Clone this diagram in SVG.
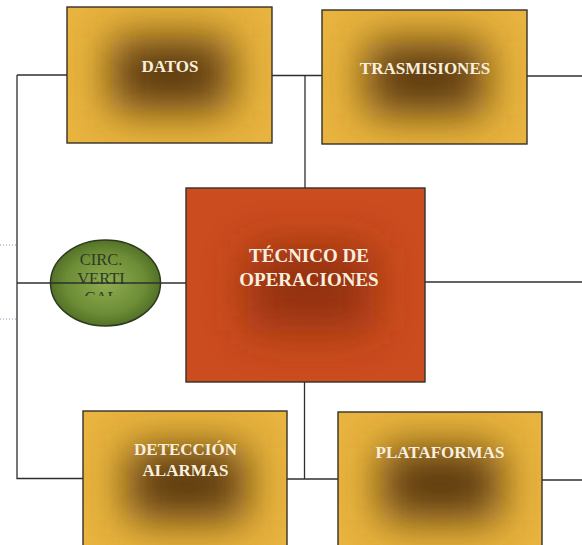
<svg xmlns="http://www.w3.org/2000/svg" width="582" height="545" viewBox="0 0 582 545">
  <style>
    .box { stroke: #35302a; stroke-width: 1.4; }
    .gold { fill: #E9B43E; }
    .rust { fill: #CB4C1F; }
    .core-gold { fill: #5A380B; }
    .core-rust { fill: #8E2E10; }
    .lbl { font-family: "Liberation Serif", "Times New Roman", serif; font-weight: bold; fill: #F8EFDF; text-anchor: middle; }
    .lbl-sm { font-size: 17px; }
    .lbl-lg { font-size: 19px; }
    .oval-lbl { font-family: "Liberation Serif", "Times New Roman", serif; font-size: 16.5px; fill: #2E3B24; text-anchor: middle; }
    .wire { fill: none; stroke: #2f2f2f; stroke-width: 1.3; }
    .dots { fill: none; stroke: #8a96b4; stroke-width: 1; stroke-dasharray: 1 2; }
  </style>
  <defs>
    <filter id="soft" x="-1" y="-1" width="3" height="3">
      <feGaussianBlur stdDeviation="22"/>
    </filter>
    <radialGradient id="green" cx="0.5" cy="0.5" r="0.55">
      <stop offset="0" stop-color="#90AD50"/>
      <stop offset="0.65" stop-color="#6C8C36"/>
      <stop offset="1" stop-color="#4A6822"/>
    </radialGradient>
    <clipPath id="c-datos"><rect x="67" y="7" width="205" height="136"/></clipPath>
    <clipPath id="c-tras"><rect x="322" y="10" width="205" height="134"/></clipPath>
    <clipPath id="c-tec"><rect x="186" y="188" width="239" height="194"/></clipPath>
    <clipPath id="c-det"><rect x="83" y="411" width="204" height="137"/></clipPath>
    <clipPath id="c-plat"><rect x="338" y="412" width="204" height="137"/></clipPath>
    <clipPath id="c-cal"><rect x="40" y="230" width="140" height="66"/></clipPath>
  </defs>

  <!-- dotted leaders on the left edge -->
  <path class="dots" d="M0,245 H16 M0,319 H16"/>

  <!-- circulation oval -->
  <g id="circ-vertical">
    <ellipse cx="105.5" cy="283" rx="55" ry="43" fill="url(#green)" stroke="#2B3B1B" stroke-width="1.5"/>
    <text class="oval-lbl" x="101" y="265">CIRC.</text>
    <text class="oval-lbl" x="101" y="284">VERTI</text>
    <text class="oval-lbl" x="101" y="303" clip-path="url(#c-cal)">CAL</text>
  </g>

  <!-- connectors -->
  <g id="connectors">
    <path class="wire" d="M17,75 H67"/>
    <path class="wire" d="M17,75 V478.5 H83"/>
    <path class="wire" d="M272,75.5 H322"/>
    <path class="wire" d="M527,76 H582"/>
    <path class="wire" d="M305,75.5 V188"/>
    <path class="wire" d="M17,283 H186"/>
    <path class="wire" d="M425,282 H582"/>
    <path class="wire" d="M304.5,382 V479"/>
    <path class="wire" d="M287,479 H338"/>
    <path class="wire" d="M542,480 H582"/>
  </g>

  <g id="datos">
    <rect class="gold" x="67" y="7" width="205" height="136"/>
    <g clip-path="url(#c-datos)">
      <rect class="core-gold" x="112" y="38" width="118" height="72" filter="url(#soft)"/>
    </g>
    <rect class="box" x="67" y="7" width="205" height="136" fill="none"/>
    <text class="lbl lbl-sm" x="170" y="72">DATOS</text>
  </g>

  <g id="trasmisiones">
    <rect class="gold" x="322" y="10" width="205" height="134"/>
    <g clip-path="url(#c-tras)">
      <rect class="core-gold" x="367" y="42" width="118" height="72" filter="url(#soft)"/>
    </g>
    <rect class="box" x="322" y="10" width="205" height="134" fill="none"/>
    <text class="lbl lbl-sm" x="425" y="73.5">TRASMISIONES</text>
  </g>

  <g id="tecnico-operaciones">
    <rect class="rust" x="186" y="188" width="239" height="194"/>
    <g clip-path="url(#c-tec)">
      <rect class="core-rust" x="248" y="248" width="125" height="82" filter="url(#soft)" opacity="0.9"/>
    </g>
    <rect class="box" x="186" y="188" width="239" height="194" fill="none"/>
    <text class="lbl lbl-lg" x="309" y="262">TÉCNICO DE</text>
    <text class="lbl lbl-lg" x="309" y="286">OPERACIONES</text>
  </g>

  <g id="deteccion-alarmas">
    <rect class="gold" x="83" y="411" width="204" height="137"/>
    <g clip-path="url(#c-det)">
      <rect class="core-gold" x="128" y="448" width="118" height="72" filter="url(#soft)"/>
    </g>
    <rect class="box" x="83" y="411" width="204" height="137" fill="none"/>
    <text class="lbl lbl-sm" x="185.5" y="455">DETECCIÓN</text>
    <text class="lbl lbl-sm" x="185.5" y="475.5">ALARMAS</text>
  </g>

  <g id="plataformas">
    <rect class="gold" x="338" y="412" width="204" height="137"/>
    <g clip-path="url(#c-plat)">
      <rect class="core-gold" x="382" y="448" width="118" height="72" filter="url(#soft)"/>
    </g>
    <rect class="box" x="338" y="412" width="204" height="137" fill="none"/>
    <text class="lbl lbl-sm" x="440" y="458">PLATAFORMAS</text>
  </g>
</svg>
